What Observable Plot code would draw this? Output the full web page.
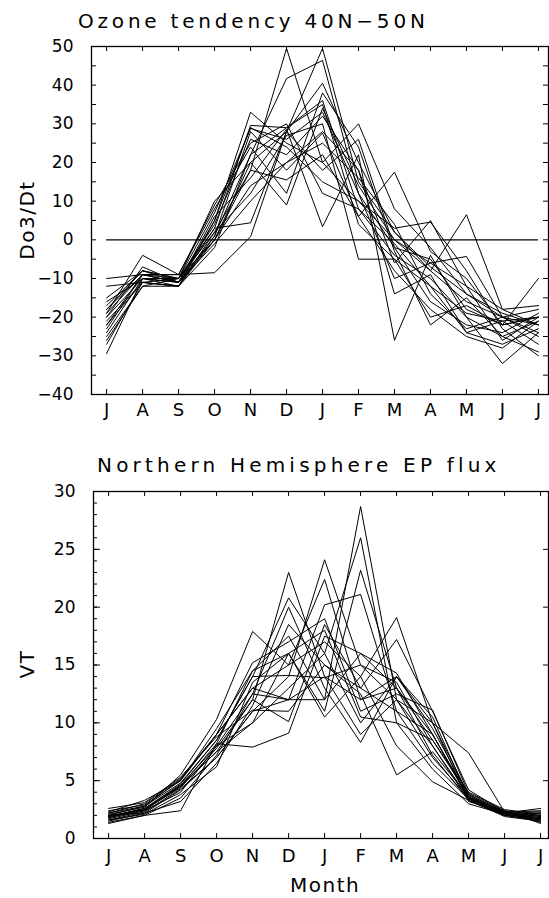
<!DOCTYPE html>
<html>
<head>
<meta charset="utf-8">
<script src="https://cdn.jsdelivr.net/npm/d3@7"></script>
<script src="https://cdn.jsdelivr.net/npm/@observablehq/plot@0.6"></script>
<style>
  html, body { margin: 0; padding: 0; background: #fff; }
  #wrap { position: relative; width: 549px; height: 898px; overflow: hidden; font-family: "DejaVu Sans", sans-serif; color: #000; }
  .txt { position: absolute; white-space: nowrap; line-height: 1; z-index: 5; }
  .title { font-size: 20px; letter-spacing: 3.8px; }
  .ylab { font-size: 20px; letter-spacing: 1.5px; transform: translate(-50%, -50%) rotate(-90deg); }
  .plot { position: absolute; left: 0; z-index: 1; }
</style>
</head>
<body>
<div id="wrap">
  <div id="p1" class="plot" style="top:0px;"></div>
  <div id="p2" class="plot" style="top:440px;"></div>
  <div class="txt title" style="left:78px; top:11px;">Ozone tendency 40N−50N</div>
  <div class="txt ylab" style="left:27px; top:220px;">Do3/Dt</div>
  <div class="txt title" style="left:97px; top:455px; letter-spacing:4.2px;">Northern Hemisphere EP flux</div>
  <div class="txt ylab" style="left:27px; top:664px;">VT</div>
  <div class="txt title" style="left:290px; top:875px; letter-spacing:1.5px;">Month</div>
</div>
<script>
// Month tick labels (July to July)
const monthLabels = ["J","A","S","O","N","D","J","F","M","A","M","J","J"];
const monthIdx = monthLabels.map((_, i) => i);

// Y tick sets
const ozoneTicksMinor = [-40,-35,-30,-25,-20,-15,-10,-5,0,5,10,15,20,25,30,35,40,45,50];
const ozoneTickLabels = [-40,-30,-20,-10,0,10,20,30,40,50];
const vtTicksMinor = d3.range(0, 31, 1);
const vtTickLabels = [0,5,10,15,20,25,30];

// Ozone tendency 40N-50N, one row per year (J A S O N D J F M A M J J)
const ozoneSeries = [
  [-18, -8, -10,  2, 18, 49.5, 20, 10,  0, -6, -12, -18, -22],
  [-22, -9, -11,  0, 20, 28, 49.5, 15,  2, -8, -16, -20, -24],
  [-16,-10, -12, -2, 22, 41.7, 46.4, 12, -2, -5, -18, -22, -20],
  [-20, -7, -11,  5, 33, 25, 20, 30,  8, -2, -14, -20, -18],
  [-25,-12, -10,  3, 29.6, 29, 36,  8, -4,-10, -20, -25, -21],
  [-10, -9,  -9, -8.5, 0.8, 28, 40.5, 20, 2, -7, -14, -19, -22],
  [-12,-11, -12,  1, 28, 18, 27.6, 6, 17.5, -3, -10, -22, -20],
  [-19, -4,  -9,  8, 24, 12, 38, 24, -3,-22, -15, -25, -29],
  [-29.4,-10,-11, 6, 16, 28.6, 3.4, 22, -26, -4, -20, -32, -24],
  [-17, -8, -10, 10, 20,  9, 34, 14,  0, -8, 6.5, -18, -17],
  [-23, -9, -10,  4, 26, 22, 32, 18, -6,  5, -12, -26, -20],
  [-21,-11, -12,  2, 12, 27, 30, -5, -5,-12, -24, -21, -27],
  [-24,-10, -11, -1, 10, 20, 25, 16,  4,-14, -23, -20, -25],
  [-26,-12, -12,  0, 18, 15.5, 22, 6, -8,-18, -25, -28, -21],
  [-18, -9, -11,  3, 4.4, 28, 18, 26, -2,-16, -22, -24, -19],
  [-20,-10, -10,  7, 28.8, 26, 33, 12, -10, -6, -4.3, -20, -22],
  [-15, -8, -11,  1, 22, 29, 35,  4, -5,-20, -17, -22, -10],
  [-22,-11, -12,  5, 29, 24, 15, 10,  3, 4.6, -8, -23, -30],
  [-27,-11, -10,  0, 14, 20, 28, 18,-14, -9, -24, -27, -23],
  [-19, -9,  -9,  9, 25, 30, 12,  8, -1,-12, -19, -21, -20]
];

// Northern Hemisphere EP flux (VT), one row per year
const vtSeries = [
  [1.8, 2.5, 4.5,  7.5, 12,   23.0, 14,   12,   13,   9,    3.5, 2.1, 1.6],
  [2.0, 2.8, 4.8,  8.5, 14,   20.8, 16,   10,   14,   10,   3.2, 2.2, 1.8],
  [1.5, 2.2, 4.2,  7.0, 11,   14,   24.1, 15,   12,   8,    3.3, 2.0, 2.2],
  [2.2, 3.0, 5.2,  9.0, 13,   15,   22.4, 12,   14,   9.5,  3.8, 2.3, 1.4],
  [1.7, 2.4, 4.0,  8.0, 12.5, 12,   12,   28.7, 12,   7,    3.5, 2.4, 2.0],
  [1.9, 2.6, 4.6,  7.5, 10,   13,   16,   26.0, 10,   6,    3.0, 2.1, 1.7],
  [2.4, 2.9, 5.0,  9.5, 14.5, 16,   11,   23.2, 13,   8.5,  4.0, 2.5, 2.1],
  [1.6, 2.3, 4.3,  7.0, 11,   12,   20.2, 21.1, 11,   6.5,  3.4, 2.0, 1.5],
  [2.1, 2.7, 5.5, 10.3, 17.9, 15,   17,   14,   19.1, 10,   3.8, 2.2, 1.9],
  [1.8, 2.5, 4.4,  7.8, 12,   10.1, 18.5, 13,   17.2, 11,   4.2, 2.3, 2.3],
  [2.0, 2.2, 3.2,  6.5, 11.5, 18.5, 15,   12.5, 5.5,  7.5,  3.6, 2.1, 1.7],
  [1.3, 2.0, 2.4,  8.2, 7.9,  9.1,  17.5, 16,   14.3, 9,    3.4, 2.2, 2.0],
  [2.3, 3.3, 5.0,  9.0, 15.2, 17,   19,   11,   12.5, 11.1, 3.9, 2.4, 1.3],
  [1.9, 2.6, 4.7,  8.5, 14,   14.1, 13.9, 15,   13.5, 8,    3.5, 2.1, 1.8],
  [1.6, 2.1, 3.8,  6.2, 13.5, 16,   10.5, 14,   8,    4.9,  3.3, 2.0, 1.6],
  [2.2, 2.8, 5.1,  9.0, 13,   12,   14,   9,    12,   10,   7.4, 2.3, 2.4],
  [2.6, 3.1, 5.3,  8.8, 11.1, 11,   15,   13,   11,   9,    3.6, 2.2, 2.6],
  [1.4, 2.0, 3.5,  7.2, 12.5, 20,   13,   8.3,  14,   10.5, 3.5, 2.3, 1.9],
  [1.9, 2.5, 4.5,  8.2, 14.5, 17.5, 12,   16,   13,   7.2,  3.3, 1.9, 1.5],
  [2.0, 2.4, 4.6,  8.0, 10,   16,   18,   10.5, 10,   8.5,  3.7, 2.2, 2.2]
];

function flatten(series) {
  return series.flatMap((vals, s) => vals.map((v, m) => ({s, m, v})));
}

const baseStyle = {fontFamily: "DejaVu Sans, sans-serif", fontSize: "17px", background: "transparent", color: "black", overflow: "visible"};
const fmtMonth = i => monthLabels[i];

// Inward tick marks: full-frame ticks trimmed by insets to a short length
function inwardTicks(xTicks, yTicksLeft, yTicksRight, frameW, frameH, lenX, lenYL, lenYR) {
  return [
    Plot.tickX(xTicks, {x: d => d, insetTop: frameH - lenX, stroke: "black", strokeWidth: 1}),
    Plot.tickX(xTicks, {x: d => d, insetBottom: frameH - lenX, stroke: "black", strokeWidth: 1}),
    Plot.tickY(yTicksLeft, {y: d => d, insetRight: frameW - lenYL, stroke: "black", strokeWidth: 1}),
    Plot.tickY(yTicksRight, {y: d => d, insetLeft: frameW - lenYR, stroke: "black", strokeWidth: 1})
  ];
}

// Top panel
const W1 = 549, H1 = 420, mt1 = 46, mb1 = 26, ml1 = 91, mr1 = 1;
const p1 = Plot.plot({
  width: W1, height: H1,
  marginTop: mt1, marginBottom: mb1, marginLeft: ml1, marginRight: mr1,
  x: {domain: [-0.42, 12.28], label: null, axis: null},
  y: {domain: [-40, 50], label: null, axis: null},
  style: baseStyle,
  marks: [
    Plot.line(flatten(ozoneSeries), {x: "m", y: "v", z: "s", stroke: "black", strokeWidth: 1}),
    Plot.ruleY([0], {x1: d3.min(monthIdx), x2: d3.max(monthIdx), stroke: "black", strokeWidth: 1.2}),
    ...inwardTicks(monthIdx, ozoneTicksMinor, ozoneTicksMinor, W1 - ml1 - mr1, H1 - mt1 - mb1, 5, 5, 5),
    Plot.axisX(monthIdx, {anchor: "bottom", tickSize: 0, tickPadding: 9, tickFormat: fmtMonth, fontSize: 18, label: null}),
    Plot.axisY(ozoneTickLabels, {anchor: "left", tickSize: 0, tickPadding: 18, fontSize: 17, label: null}),
    Plot.frame({stroke: "black", strokeWidth: 1.3})
  ]
});
document.getElementById("p1").appendChild(p1);

// Bottom panel
const W2 = 549, H2 = 458, mt2 = 51, mb2 = 60, ml2 = 93, mr2 = 1;
const p2 = Plot.plot({
  width: W2, height: H2,
  marginTop: mt2, marginBottom: mb2, marginLeft: ml2, marginRight: mr2,
  x: {domain: [-0.42, 12.22], label: null, axis: null},
  y: {domain: [0, 30], label: null, axis: null},
  style: baseStyle,
  marks: [
    Plot.line(flatten(vtSeries), {x: "m", y: "v", z: "s", stroke: "black", strokeWidth: 1}),
    ...inwardTicks(monthIdx, vtTicksMinor, vtTickLabels, W2 - ml2 - mr2, H2 - mt2 - mb2, 5, 4, 5),
    Plot.tickY(vtTickLabels, {y: d => d, insetRight: (W2 - ml2 - mr2) - 7, stroke: "black", strokeWidth: 1}),
    Plot.axisX(monthIdx, {anchor: "bottom", tickSize: 0, tickPadding: 11, tickFormat: fmtMonth, fontSize: 18, label: null}),
    Plot.axisY(vtTickLabels, {anchor: "left", tickSize: 0, tickPadding: 18, fontSize: 17, label: null}),
    Plot.frame({stroke: "black", strokeWidth: 1.3})
  ]
});
document.getElementById("p2").appendChild(p2);
</script>
</body>
</html>
